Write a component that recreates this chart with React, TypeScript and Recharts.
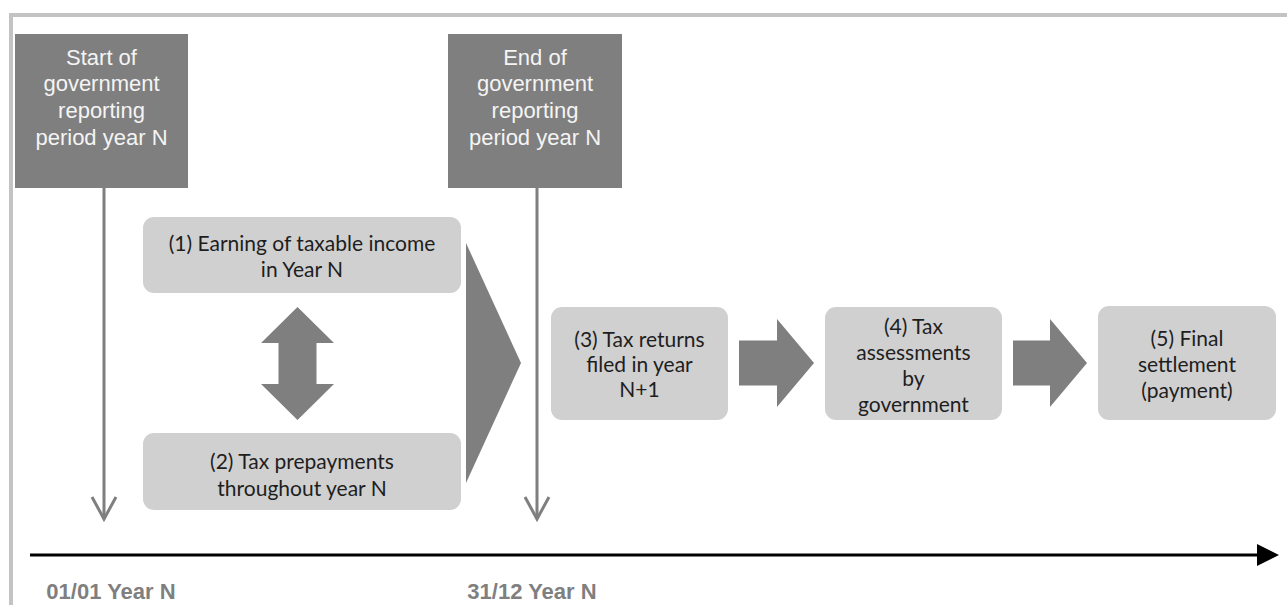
// Tax timeline — year N reporting period and the five tax steps
// Diagram drawn on a hidden numeric x/y plane (1 unit = 1 px), shapes through ReferenceArea

import { ComposedChart, XAxis, YAxis, Scatter, ReferenceArea } from 'recharts';

// ---- content ----
const milestoneTitles = [
  ['Start of', 'government', 'reporting', 'period year N'],
  ['End of', 'government', 'reporting', 'period year N'],
];
const milestoneDates = ['01/01 Year N', '31/12 Year N'];

const stepLabels = [
  ['(1) Earning of taxable income', 'in Year N'],
  ['(2) Tax prepayments', 'throughout year N'],
  ['(3) Tax returns', 'filed in year', 'N+1'],
  ['(4) Tax', 'assessments', 'by', 'government'],
  ['(5) Final', 'settlement', '(payment)'],
];

// ---- layout (plane units) ----
const W = 1287;
const H = 605;
const milestoneBoxX = [[15, 188], [448, 622]];
const milestoneBoxY = [34, 188];
const milestoneArrowX = [104, 537];
const milestoneArrowEnd = 519;
const dateLabelX = [111, 532];
const dateLabelY = 591;

const stepBoxX = [[143, 461], [143, 461], [551, 728], [825, 1002], [1098, 1276]];
const stepBoxY = [[217, 293], [433, 510], [307, 420], [307, 420], [306, 420]];
const stepLineGap = [26, 27, 25, 26, 26];
const stepTextShift = [0, 2, 0, 1, 0];

const DARK = '#7f7f7f';
const LIGHT = '#d0d0d0';
const FRAME = '#c3c3c3';

const darkBox = (lines: string[]) => (p: any) => {
  const { x, y, width, height } = p;
  const cx = x + width / 2;
  return (
    <g>
      <rect x={x} y={y} width={width} height={height} fill={DARK} />
      {lines.map((t, i) => (
        <text
          key={i}
          x={cx}
          y={y + 23 + i * 26.7}
          textAnchor="middle"
          dominantBaseline="central"
          fill="#f4f4f4"
          fontFamily="'Liberation Sans', Arial, sans-serif"
          fontSize={22}
        >
          {t}
        </text>
      ))}
    </g>
  );
};

const stepBox = (lines: string[], gap: number, shift: number) => (p: any) => {
  const { x, y, width, height } = p;
  const cx = x + width / 2;
  const cy = y + height / 2 + shift;
  const top = cy - ((lines.length - 1) * gap) / 2;
  return (
    <g>
      <rect x={x} y={y} width={width} height={height} rx={11} ry={11} fill={LIGHT} />
      {lines.map((t, i) => (
        <text
          key={i}
          x={cx}
          y={top + i * gap}
          textAnchor="middle"
          dominantBaseline="central"
          fill="#1e1e1e"
          fontFamily="Lato, 'Open Sans', sans-serif"
          fontSize={21}
        >
          {t}
        </text>
      ))}
    </g>
  );
};

const downArrow = (p: any) => {
  const { x, y, width, height } = p;
  const cx = x + width / 2;
  const b = y + height;
  return (
    <g stroke={DARK} strokeWidth={3} fill="none">
      <line x1={cx} y1={y} x2={cx} y2={b} />
      <polyline points={`${cx - 12},${b - 22} ${cx},${b} ${cx + 12},${b - 22}`} />
    </g>
  );
};

const doubleArrow = (p: any) => {
  const { x, y, width: w, height: h } = p;
  const cx = x + w / 2;
  const hh = 36;
  const sw = (w * 38) / 73 / 2;
  const pts = [
    [cx, y], [x + w, y + hh], [cx + sw, y + hh], [cx + sw, y + h - hh], [x + w, y + h - hh],
    [cx, y + h], [x, y + h - hh], [cx - sw, y + h - hh], [cx - sw, y + hh], [x, y + hh],
  ];
  return <polygon points={pts.map((q) => q.join(',')).join(' ')} fill={DARK} />;
};

const rightArrow = (p: any) => {
  const { x, y, width: w, height: h } = p;
  const cy = y + h / 2;
  const sh = (h * 45) / 88 / 2;
  const hl = 37;
  const pts = [
    [x, cy - sh], [x + w - hl, cy - sh], [x + w - hl, y], [x + w, cy],
    [x + w - hl, y + h], [x + w - hl, cy + sh], [x, cy + sh],
  ];
  return <polygon points={pts.map((q) => q.join(',')).join(' ')} fill={DARK} />;
};

const chevron = (p: any) => {
  const { x, y, width: w, height: h } = p;
  return <polygon points={`${x},${y} ${x + w},${y + h / 2} ${x},${y + h}`} fill={DARK} />;
};

const timeline = (p: any) => {
  const { x, y, width: w, height: h } = p;
  const cy = y + h / 2;
  return (
    <g>
      <line x1={x} y1={cy} x2={x + w - 20} y2={cy} stroke="#000" strokeWidth={3} />
      <polygon points={`${x + w - 22},${cy - 11} ${x + w},${cy} ${x + w - 22},${cy + 11}`} fill="#000" />
    </g>
  );
};

const frame = (p: any) => {
  const { x, y, width, height } = p;
  return (
    <polyline
      points={`${x},${y + height} ${x},${y} ${x + width},${y}`}
      stroke={FRAME}
      strokeWidth={4}
      fill="none"
    />
  );
};

const dateLabel = (p: any) => (
  <text
    x={p.cx}
    y={p.cy}
    textAnchor="middle"
    dominantBaseline="central"
    fill={DARK}
    fontFamily="'Liberation Sans', Arial, sans-serif"
    fontWeight="bold"
    fontSize={22}
  >
    {p.payload.label}
  </text>
);

const dateData = milestoneDates.map((label, i) => ({ x: dateLabelX[i], y: dateLabelY, label }));

export default function App() {
  return (
    <div style={{ position: 'absolute', left: 0, top: 0, background: '#fff' }}>
      <ComposedChart width={W} height={H} margin={{ top: 0, right: 0, bottom: 0, left: 0 }}>
        <XAxis type="number" dataKey="x" domain={[0, W]} allowDataOverflow hide />
        <YAxis type="number" dataKey="y" domain={[0, H]} reversed allowDataOverflow hide />

        <ReferenceArea x1={11} x2={W} y1={15} y2={H} shape={frame} />

        {milestoneTitles.map((lines, i) => (
          <ReferenceArea
            key={`mb-${i}`}
            x1={milestoneBoxX[i][0]}
            x2={milestoneBoxX[i][1]}
            y1={milestoneBoxY[0]}
            y2={milestoneBoxY[1]}
            shape={darkBox(lines)}
          />
        ))}
        {milestoneArrowX.map((ax, i) => (
          <ReferenceArea
            key={`ma-${i}`}
            x1={ax - 12}
            x2={ax + 12}
            y1={milestoneBoxY[1]}
            y2={milestoneArrowEnd}
            shape={downArrow}
          />
        ))}

        {stepLabels.map((lines, i) => (
          <ReferenceArea
            key={`sb-${i}`}
            x1={stepBoxX[i][0]}
            x2={stepBoxX[i][1]}
            y1={stepBoxY[i][0]}
            y2={stepBoxY[i][1]}
            shape={stepBox(lines, stepLineGap[i], stepTextShift[i])}
          />
        ))}

        <ReferenceArea x1={261} x2={334} y1={307} y2={420} shape={doubleArrow} />
        <ReferenceArea x1={466} x2={521} y1={243} y2={483} shape={chevron} />
        <ReferenceArea x1={739} x2={814} y1={319} y2={407} shape={rightArrow} />
        <ReferenceArea x1={1013} x2={1087} y1={319} y2={407} shape={rightArrow} />

        <ReferenceArea x1={30} x2={1279} y1={544} y2={566} shape={timeline} />

        <Scatter data={dateData} shape={dateLabel} isAnimationActive={false} />
      </ComposedChart>
    </div>
  );
}
